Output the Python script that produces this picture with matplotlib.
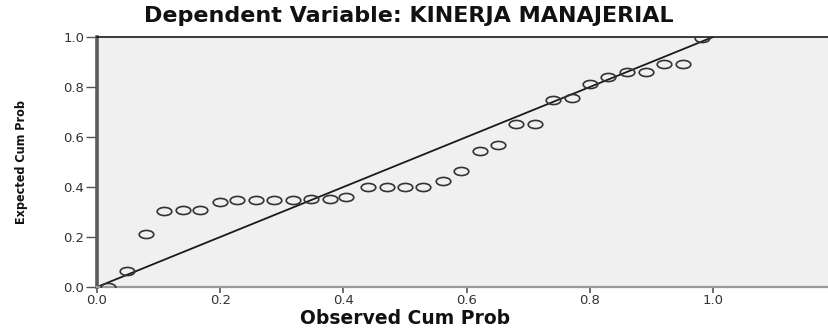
import matplotlib
matplotlib.use("Agg")
import matplotlib.pyplot as plt
from matplotlib.path import Path
from matplotlib.transforms import Affine2D

# Normal P-P plot of regression standardized residuals
observed = [0.018, 0.048, 0.079, 0.109, 0.139, 0.168, 0.200, 0.228, 0.258, 0.288, 0.318,
            0.348, 0.378, 0.405, 0.440, 0.470, 0.500, 0.530, 0.561, 0.591, 0.621, 0.651,
            0.680, 0.711, 0.741, 0.771, 0.800, 0.830, 0.861, 0.891, 0.921, 0.951, 0.982]
expected = [0.002, 0.066, 0.212, 0.305, 0.307, 0.307, 0.339, 0.347, 0.347, 0.347, 0.347,
            0.352, 0.352, 0.360, 0.401, 0.401, 0.401, 0.401, 0.425, 0.465, 0.545, 0.569,
            0.653, 0.653, 0.748, 0.757, 0.812, 0.841, 0.860, 0.860, 0.891, 0.891, 0.997]
ticks = [0.0, 0.2, 0.4, 0.6, 0.8, 1.0]
tick_labels = ["0.0", "0.2", "0.4", "0.6", "0.8", "1.0"]

title = "Dependent Variable: KINERJA MANAJERIAL"
xlabel = "Observed Cum Prob"
ylabel = "Expected Cum Prob"

W, H = 829, 332
fig = plt.figure(figsize=(W / 100, H / 100), dpi=100)
fig.patch.set_facecolor("white")

# plot area in pixels: left 97, top 37, bottom 287, runs off the right edge
x0, y_top, y_bot = 97, 37, 287
ax = fig.add_axes([x0 / W, (H - y_bot) / H, (W - x0) / W, (y_bot - y_top) / H])
ax.set_facecolor("#f0f0f0")

px_per_unit = 616.0
ax.set_xlim(0, (W - x0) / px_per_unit)
ax.set_ylim(0, 1.0)

# diagonal reference line
ax.plot([0, 1], [0, 1], color="#1a1a1a", lw=1.3, zorder=2)

# wide open-ellipse markers
ellipse = Path.unit_circle().transformed(Affine2D().scale(1.8, 1.0))
ax.plot(observed, expected, linestyle="none", marker=ellipse, markersize=10.5,
        markerfacecolor="none", markeredgecolor="#333333", markeredgewidth=1.2,
        zorder=3)

ax.spines["right"].set_visible(False)
ax.spines["top"].set_color("#1a1a1a")
ax.spines["top"].set_linewidth(1.2)
ax.spines["left"].set_color("#5a5a5a")
ax.spines["left"].set_linewidth(2.6)
ax.spines["bottom"].set_color("#9a9a9a")
ax.spines["bottom"].set_linewidth(1.6)

ax.set_xticks(ticks)
ax.set_xticklabels(tick_labels)
ax.set_yticks(ticks)
ax.set_yticklabels(tick_labels)
ax.tick_params(axis="x", length=4, width=1.2, color="#555555", pad=1,
               labelsize=9.5, labelcolor="#333333")
ax.tick_params(axis="y", length=8, width=1.0, color="#555555", pad=1,
               labelsize=9.5, labelcolor="#333333")

fig.text(409 / W, 1 - 16 / H, title, ha="center", va="center",
         fontsize=16, fontweight="bold", color="#111111")
fig.text(405 / W, 1 - 318 / H, xlabel, ha="center", va="center",
         fontsize=13.5, fontweight="bold", color="#111111")
fig.text(22 / W, 1 - 162 / H, ylabel, ha="center", va="center", rotation=90,
         fontsize=9, fontweight="bold", fontstretch="condensed", color="#111111")

fig.savefig("out.png", dpi=100, facecolor=fig.get_facecolor())
